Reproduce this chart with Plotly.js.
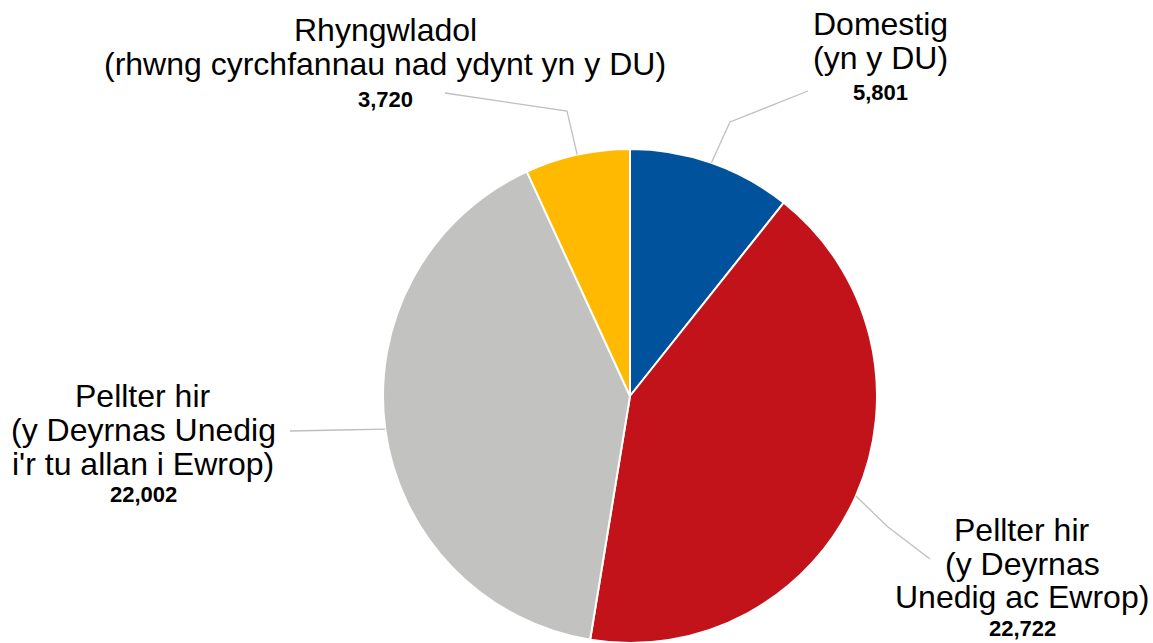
<!DOCTYPE html>
<html>
<head>
<meta charset="utf-8">
<script src="https://cdn.plot.ly/plotly-3.0.1.min.js"></script>
<style>
  html, body { margin: 0; padding: 0; background: #ffffff; }
  #chart { width: 1153px; height: 643px; }
</style>
</head>
<body>
<div id="chart"></div>
<script>
// ---- Data ----
const categories = [
  'Domestig (yn y DU)',
  'Pellter hir (y Deyrnas Unedig ac Ewrop)',
  "Pellter hir (y Deyrnas Unedig i'r tu allan i Ewrop)",
  'Rhyngwladol (rhwng cyrchfannau nad ydynt yn y DU)'
];
const values = [5801, 22722, 22002, 3720];
const labelLines = [
  ['Domestig', '(yn y DU)'],
  ['Pellter hir', '(y Deyrnas', 'Unedig ac Ewrop)'],
  ['Pellter hir', '(y Deyrnas Unedig', "i'r tu allan i Ewrop)"],
  ['Rhyngwladol', '(rhwng cyrchfannau nad ydynt yn y DU)']
];
const colors = ['#00529C', '#C2121A', '#C2C2C0', '#FFB901'];

// ---- Layout constants (pixels) ----
const W = 1153, H = 643;
const pieLeft = 382, pieRight = 878, pieTop = 149;
const FONT = '"Liberation Sans", Arial, sans-serif';
// label block placement: centre x, centre y of each line, centre y of value
const labelPos = [
  {x: 880, lines: [24, 58], value: 92},
  {x: 1022, lines: [530, 564, 597], value: 628},
  {x: 143, lines: [396, 430, 464], value: 494},
  {x: 385, lines: [30, 64], value: 99}
];
// leader line elbow and end points (pixels)
const leader = [
  {elbow: [730, 122], end: [808, 91]},
  {elbow: [888, 527], end: [930, 559]},
  {elbow: [340, 430], end: [290, 431]},
  {elbow: [567, 111], end: [445, 93]}
];

const px = x => x / W;
const py = y => 1 - y / H;

const domY0 = 0, domY1 = py(pieTop);
const r = Math.min(pieRight - pieLeft, (domY1 - domY0) * H) / 2;
const cx = (pieLeft + pieRight) / 2;
const cy = H - (domY1 - domY0) * H / 2;

const total = values.reduce((a, b) => a + b, 0);
let cum = 0;
const shapes = [];
const annotations = [];
values.forEach((v, i) => {
  const mid = (cum + v / 2) / total * 2 * Math.PI;
  cum += v;
  const sx = cx + r * Math.sin(mid);
  const sy = cy - r * Math.cos(mid);
  const L = leader[i];
  shapes.push({
    type: 'path', xref: 'paper', yref: 'paper',
    path: `M ${px(sx)} ${py(sy)} L ${px(L.elbow[0])} ${py(L.elbow[1])} L ${px(L.end[0])} ${py(L.end[1])}`,
    line: {color: '#BFBFBF', width: 1.3}
  });
  const P = labelPos[i];
  labelLines[i].forEach((t, j) => {
    annotations.push({
      xref: 'paper', yref: 'paper', x: px(P.x), y: py(P.lines[j]),
      xanchor: 'center', yanchor: 'middle', showarrow: false,
      text: t, font: {family: FONT, size: 32, color: '#000000'}
    });
  });
  annotations.push({
    xref: 'paper', yref: 'paper', x: px(P.x), y: py(P.value),
    xanchor: 'center', yanchor: 'middle', showarrow: false,
    text: '<b>' + v.toLocaleString('en-US') + '</b>',
    font: {family: FONT, size: 22, color: '#000000'}
  });
});

const trace = {
  type: 'pie',
  labels: categories,
  values: values,
  sort: false,
  direction: 'clockwise',
  rotation: 0,
  textinfo: 'none',
  hoverinfo: 'label+value',
  marker: {colors: colors, line: {color: '#FFFFFF', width: 2}},
  domain: {x: [px(pieLeft), px(pieRight)], y: [domY0, domY1]},
  showlegend: false
};

const layout = {
  width: W, height: H,
  margin: {l: 0, r: 0, t: 0, b: 0},
  paper_bgcolor: '#FFFFFF',
  showlegend: false,
  shapes: shapes,
  annotations: annotations
};

Plotly.newPlot('chart', [trace], layout, {displayModeBar: false, staticPlot: true});
</script>
</body>
</html>
